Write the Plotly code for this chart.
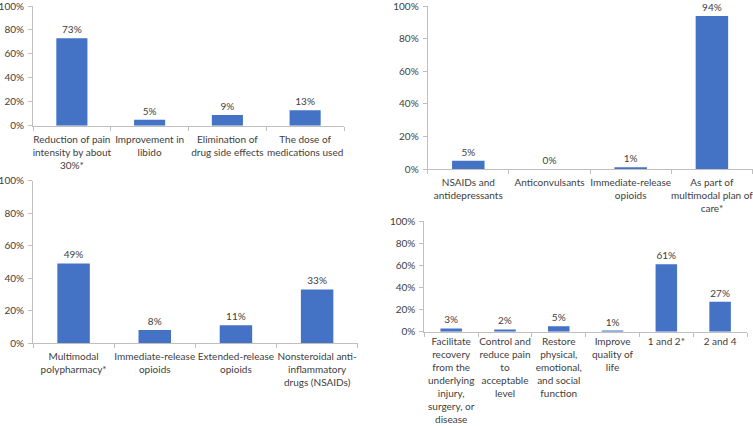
import plotly.graph_objects as go

# Panel A: treatment goals
cats_a = ["Reduction of pain<br>intensity by about<br>30%*", "Improvement in<br>libido",
          "Elimination of<br>drug side effects", "The dose of<br>medications used"]
vals_a = [73, 5, 9, 13]

# Panel B: opioid use
cats_b = ["NSAIDs and<br>antidepressants", "Anticonvulsants", "Immediate-release<br>opioids",
          "As part of<br>multimodal plan of<br>care*"]
vals_b = [5, 0, 1, 94]

# Panel C: treatment approach
cats_c = ["Multimodal<br>polypharmacy*", "Immediate-release<br>opioids", "Extended-release<br>opioids",
          "Nonsteroidal anti-<br>inflammatory<br>drugs (NSAIDs)"]
vals_c = [49, 8, 11, 33]

# Panel D: goals of pain management
cats_d = ["Facilitate<br>recovery<br>from the<br>underlying<br>injury,<br>surgery, or<br>disease",
          "Control and<br>reduce pain<br>to<br>acceptable<br>level",
          "Restore<br>physical,<br>emotional,<br>and social<br>function",
          "Improve<br>quality of<br>life", "1 and 2*", "2 and 4"]
vals_d = [3, 2, 5, 1, 61, 27]

y_ticks = [0, 20, 40, 60, 80, 100]
y_labels = ["0%", "20%", "40%", "60%", "80%", "100%"]

W, H = 753, 426
FONT = dict(family="Lato, Open Sans, sans-serif", size=10, color="#404040")
BAR = "#4472C4"
AX = "#BFBFBF"

panels = [
    (cats_a, vals_a, "x", "y", (33, 344), (6, 125.7), 4),
    (cats_b, vals_b, "x2", "y2", (427.7, 752.5), (6.3, 169), 4),
    (cats_c, vals_c, "x3", "y3", (33, 357.7), (180.7, 343), 4),
    (cats_d, vals_d, "x4", "y4", (424.3, 747), (221, 331.7), 0),
]

fig = go.Figure()
layout = {}
for i, (cats, vals, xa, ya, (x0, x1), (ytop, ybot), so) in enumerate(panels):
    fig.add_trace(go.Bar(
        x=cats, y=vals, xaxis=xa, yaxis=ya, width=0.4,
        marker=dict(color=BAR, line=dict(width=0)),
        text=[f"{v}%" for v in vals], textposition="outside",
        textfont=FONT, cliponaxis=False, showlegend=False, hoverinfo="skip",
    ))
    n = "" if i == 0 else str(i + 1)
    layout[f"xaxis{n}"] = dict(
        domain=[x0 / W, x1 / W], anchor=ya, type="category", automargin=False,
        showline=True, linecolor=AX, linewidth=1,
        ticks="outside", tickson="boundaries", ticklen=4, tickcolor=AX,
        showgrid=False, tickfont=FONT, fixedrange=True, tickangle=0,
        ticklabeloverflow="allow", ticklabelstandoff=so,
    )
    layout[f"yaxis{n}"] = dict(
        domain=[1 - ybot / H, 1 - ytop / H], anchor=xa, range=[0, 100],
        automargin=False, tickmode="array", tickvals=y_ticks, ticktext=y_labels,
        showline=True, linecolor=AX, linewidth=1,
        ticks="outside", ticklen=4, tickcolor=AX, ticklabeloverflow="allow",
        ticklabelstandoff=2,
        showgrid=False, zeroline=False, tickfont=FONT, fixedrange=True,
    )

fig.update_layout(
    template="none",
    width=W, height=H, margin=dict(l=0, r=0, t=0, b=0, autoexpand=False),
    paper_bgcolor="white", plot_bgcolor="white",
    font=FONT, hovermode=False,
    **layout,
)
fig.write_html(
    "out.html",
    config={"displayModeBar": False, "staticPlot": True},
    post_script="document.body.style.margin='0';document.body.style.overflow='hidden';",
)
